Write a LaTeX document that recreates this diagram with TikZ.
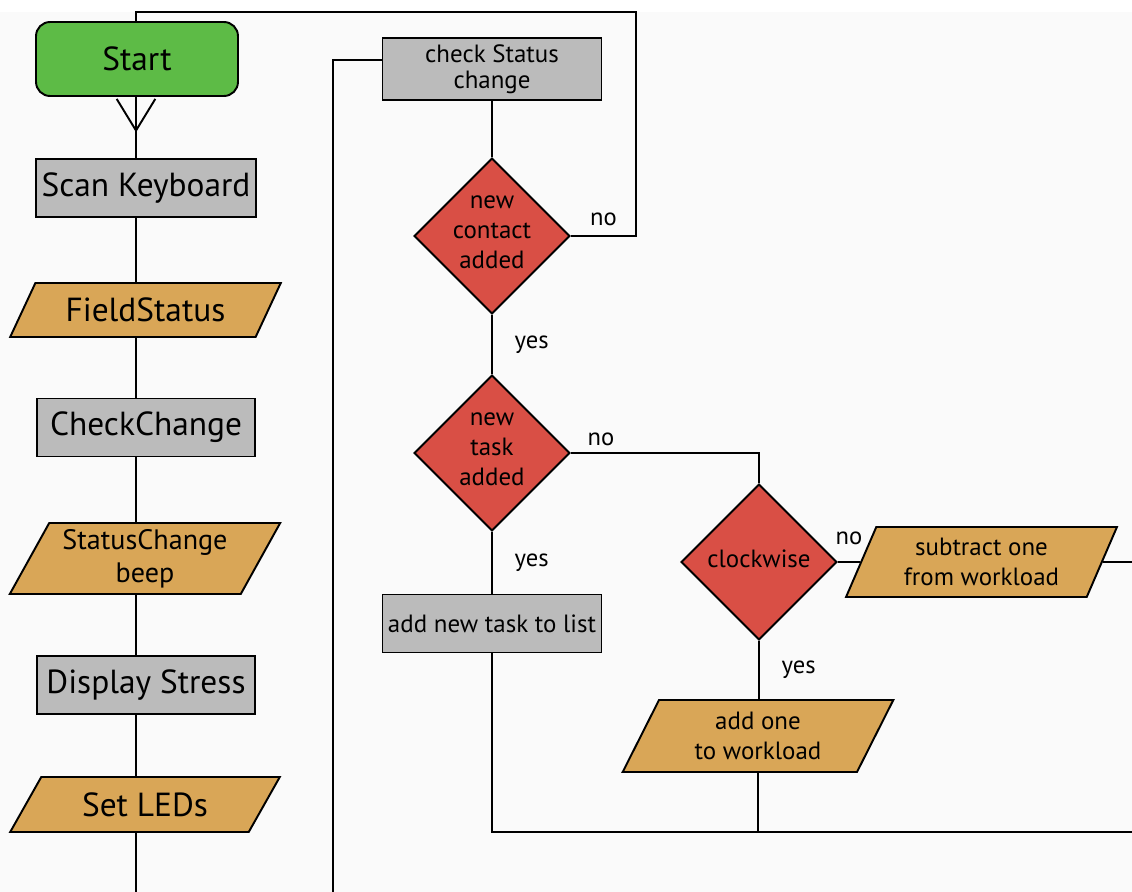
\documentclass[tikz,border=0pt]{standalone}
\usepackage{fontspec}
\setmainfont{PT Sans}
\usepackage{tikz}
\usetikzlibrary{arrows.meta, shapes.geometric, calc}
\usepackage{xcolor}
\definecolor{startgreen}{HTML}{5DBB46}
\definecolor{procgray}{HTML}{BBBBBB}
\definecolor{ioorange}{HTML}{D9A657}
\definecolor{decred}{HTML}{D94F45}
\definecolor{bggray}{HTML}{FAFAFA}

\begin{document}
\begin{tikzpicture}[
  x=0.02cm, y=-0.02cm,
  line width=1.1pt,
  bigfont/.style={font=\fontsize{19}{22}\selectfont},
  midfont/.style={font=\fontsize{14.2}{17}\selectfont},
  startbox/.style={draw, rounded corners=8pt, fill=startgreen,
                   minimum width=4.04cm, minimum height=1.48cm, bigfont},
  proc/.style={draw, fill=procgray, minimum width=4.36cm,
               minimum height=1.16cm, bigfont},
  subproc/.style={draw, fill=procgray, minimum width=4.38cm,
                  minimum height=1.16cm, inner xsep=2pt, align=center, midfont},
  io/.style={draw, fill=ioorange, trapezium, trapezium stretches=true,
             minimum width=5.42cm, align=center, inner sep=1pt},
  decision/.style={draw, diamond, fill=decred, minimum width=3.12cm,
                   minimum height=3.12cm, inner sep=0pt},
  dtext/.style={align=center, midfont, inner sep=0pt, yshift=2pt},
  lbl/.style={font=\fontsize{14}{16}\selectfont},
  flow/.style={draw, line width=1.1pt},
  barb/.style={-{Straight Barb[length=18pt, width=22pt, line width=1.1pt]}}
]
\useasboundingbox (0,0) rectangle (1132,892);
\fill[white] (0,0) rectangle (1132,892);
\fill[bggray] (0,12) rectangle (1132,892);

%% main column
\coordinate (trunk)  at (136,0);
\coordinate (trunkB) at (136,892);
\node[startbox] (start) at (137,59)    {Start};
\node[proc]     (scan)  at (146,188)   {Scan Keyboard};
\node[io, minimum height=1.08cm, trapezium left angle=56,
      trapezium right angle=124, bigfont] (field) at (145.5,310) {FieldStatus};
\node[proc]     (check) at (146,427.5) {CheckChange};
\node[io, minimum height=1.42cm, trapezium left angle=61,
      trapezium right angle=119, font=\fontsize{16}{19}\selectfont]
                (beep)  at (145,558.5) {StatusChange\\beep};
\node[proc]     (disp)  at (146,685)   {Display Stress};
\node[io, minimum height=1.1cm, trapezium left angle=55,
      trapezium right angle=125, bigfont] (leds) at (145,804.5) {Set LEDs};

\draw[flow] (trunk |- start.south) -- (trunk |- scan.north);
\draw[flow, barb] (trunk |- start.south)
      -- ($(trunk |- start.south)!0.58!(trunk |- scan.north)$);
\draw[flow] (trunk |- scan.south)  -- (trunk |- field.north);
\draw[flow] (trunk |- field.south) -- (trunk |- check.north);
\draw[flow] (trunk |- check.south) -- (trunk |- beep.north);
\draw[flow] (trunk |- beep.south)  -- (trunk |- disp.north);
\draw[flow] (trunk |- disp.south)  -- (trunk |- leds.north);
\draw[flow] (trunk |- leds.south)  -- (trunkB);

%% status check branch
\coordinate (ret)   at (636,12);
\coordinate (loopL) at (333,892);
\coordinate (botR)  at (1132,832);
\coordinate (rgtR)  at (1132,562);

\node[subproc]  (chk)  at (492,69)  {check Status\\[-2pt]change};
\node[decision, label={[dtext]center:{new\\contact\\added}}] (d1) at (492,236) {};
\node[decision, label={[dtext]center:{new\\task\\added}}]    (d2) at (492,453) {};
\node[subproc]  (task) at (492,623.5) {add new task to list};
\node[decision, label={[dtext]center:{clockwise}}] (d3) at (759,562) {};
\node[io, minimum height=1.4cm, trapezium left angle=66,
      trapezium right angle=114, midfont] (sub) at (981.5,562)
      {subtract one\\from workload};
\node[io, minimum height=1.44cm, trapezium left angle=65,
      trapezium right angle=115, midfont] (add) at (758,736)
      {add one\\to workload};

\draw[flow] ($(chk.west)+(0,-9)$) -| (loopL);
\draw[flow] (chk.south) -- (d1.north);
\draw[flow] (d1.east) -- node[lbl, above=2pt]{no} (d1.east -| ret)
            -- (ret) -| (trunk |- start.north);
\draw[flow] (d1.south) -- node[lbl, right=9pt]{yes} (d2.north);
\draw[flow] (d2.east) -| node[lbl, pos=0.08, above]{no} (d3.north);
\draw[flow] (d2.south) -- node[lbl, right=9pt]{yes} (task.north);
\draw[flow] (d3.east) -- node[lbl, above=6pt]{no} (sub.west);
\draw[flow] (sub.east) -- (rgtR);
\draw[flow] (d3.south) -- node[lbl, right=9pt]{yes} (d3.south |- add.north);
\draw[flow] (task.south) |- (botR);
\draw[flow] (add.south) -- (add.south |- botR);

\end{tikzpicture}
\end{document}
